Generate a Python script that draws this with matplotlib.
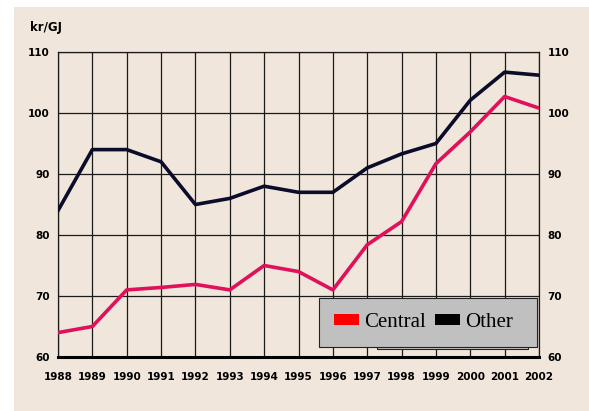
import numpy as np
import matplotlib
matplotlib.use('Agg')
import matplotlib.pyplot as plt
from matplotlib.patches import Patch, Rectangle

# values (kr/GJ)
years = [1988, 1989, 1990, 1991, 1992, 1993, 1994, 1995,
         1996, 1997, 1998, 1999, 2000, 2001, 2002]
central = [64, 65, 71, 71.4, 71.9, 71, 75, 74,
           71, 78.4, 82.2, 91.7, 96.9, 102.7, 100.8]
other = [84, 94, 94, 92, 85, 86, 88, 87,
         87, 91, 93.3, 95, 102.1, 106.7, 106.2]
yticks = [60, 70, 80, 90, 100, 110]

bg = '#F0E6DB'
fig = plt.figure(figsize=(5.89, 4.11), dpi=100)
fig.patches.append(Rectangle((14/589, 0), 1, 1 - 7/411, transform=fig.transFigure,
                             facecolor=bg, edgecolor='none', zorder=-10))

ax = fig.add_axes([58/589, 1 - 357/411, 481/589, 305/411])
ax.set_facecolor(bg)

ax.plot(years, central, color='#E0105A', lw=2.6, solid_joinstyle='round', zorder=3)
ax.plot(years, other, color='#0B0B2A', lw=2.6, solid_joinstyle='round', zorder=3)

ax.set_xlim(years[0], years[-1])
ax.set_ylim(60, 110)
ax.set_xticks(years)
ax.set_yticks(yticks)
ax.grid(True, color='#1a1a1a', lw=0.9)
ax.set_axisbelow(True)
ax.tick_params(axis='x', length=0, labelsize=7.5, pad=11)
ax.tick_params(axis='y', length=0, labelsize=7.5, pad=6, labelright=True)
for lab in ax.get_xticklabels() + ax.get_yticklabels():
    lab.set_fontweight('bold')
for s in ['left', 'right', 'top']:
    ax.spines[s].set_linewidth(0.9)
    ax.spines[s].set_color('#1a1a1a')
ax.spines['bottom'].set_linewidth(2.2)

fig.text(30/589, 1 - 28/411, 'kr/GJ', fontsize=8.5, fontweight='bold', va='center', ha='left')

# legend box with a stray box peeking behind it
ax.add_patch(Rectangle((0.663, 0.026), 0.314, 0.16, transform=ax.transAxes,
                       facecolor='#C8C8C8', edgecolor='#222222', lw=0.8, zorder=4))
ax.add_patch(Rectangle((0.5426, 0.033), 0.4534, 0.16, transform=ax.transAxes,
                       facecolor='#C0C0C0', edgecolor='#222222', lw=0.8, zorder=5))
handles = [Patch(facecolor='#FF0000', edgecolor='none'),
           Patch(facecolor='#000000', edgecolor='none')]
leg = ax.legend(handles, ['Central', 'Other'], loc='center left',
                bbox_to_anchor=(0.5426, 0.033, 0.4534, 0.16), ncol=2, frameon=False,
                prop={'family': 'Liberation Serif', 'size': 15},
                handlelength=1.2, handleheight=0.4, handletextpad=0.25,
                columnspacing=0.45, borderaxespad=0.3)
leg.set_zorder(6)

fig.savefig('out.png', dpi=100)
